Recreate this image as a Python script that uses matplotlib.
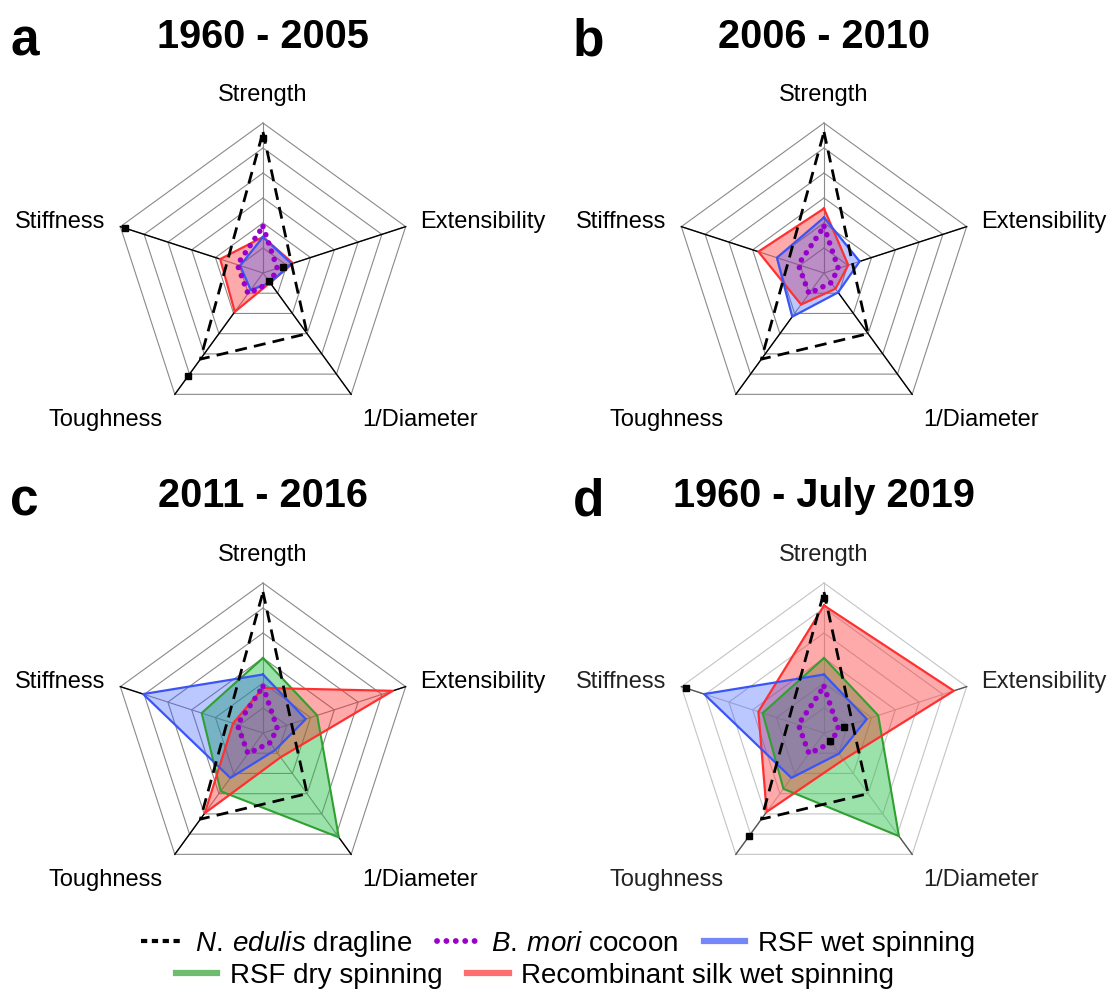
import numpy as np
import matplotlib.pyplot as plt
from matplotlib.lines import Line2D

plt.rcParams['font.family'] = ['Liberation Sans', 'DejaVu Sans']
plt.rcParams['mathtext.fontset'] = 'custom'
plt.rcParams['mathtext.it'] = 'Liberation Sans:italic'
plt.rcParams['mathtext.rm'] = 'Liberation Sans'

# axes go clockwise from the top
axis_names = ['Strength', 'Extensibility', '1/Diameter', 'Toughness', 'Stiffness']

# reference fibres, same in every panel
edulis = [0.94, 0.20, 0.50, 0.71, 0.25]
mori = [0.31, 0.10, 0.08, 0.17, 0.18]
edulis_marks = [0.90, 0.14, 0.07, 0.85, 0.97]

titles = ['1960 - 2005', '2006 - 2010', '2011 - 2016', '1960 - July 2019']
letters = ['a', 'b', 'c', 'd']

rsf_wet = [
    [0.24, 0.20, 0.08, 0.14, 0.16],
    [0.37, 0.25, 0.16, 0.36, 0.33],
    [0.39, 0.30, 0.14, 0.37, 0.84],
    [0.39, 0.30, 0.17, 0.37, 0.84],
]
rsf_dry = [
    None,
    None,
    [0.50, 0.38, 0.86, 0.48, 0.43],
    [0.50, 0.38, 0.85, 0.46, 0.43],
]
recomb_wet = [
    [0.24, 0.21, 0.08, 0.32, 0.30],
    [0.43, 0.17, 0.13, 0.26, 0.46],
    [0.30, 0.91, 0.20, 0.66, 0.21],
    [0.85, 0.91, 0.22, 0.65, 0.46],
]
show_marks = [True, False, False, True]

W, H = 1115, 992
R = 150  # pixels per unit radius
centers = [(263, 273), (824, 273), (263, 733), (824, 733)]

fig = plt.figure(figsize=(W / 100, H / 100), dpi=100)

theta = np.deg2rad(90 - 72 * np.arange(5))


def fx(x):
    return x / W


def fy(y):
    return 1 - y / H


def xy(vals):
    v = np.asarray(vals, dtype=float)
    x = v * np.cos(theta)
    y = v * np.sin(theta)
    return np.append(x, x[0]), np.append(y, y[0])


label_pos = [(0, 1.19, 'center'), (1.05, 0.34, 'left'), (1.05, -0.98, 'center'),
             (-1.05, -0.98, 'center'), (-1.05, 0.34, 'right')]

red_e, red_f = '#ff3030', '#ff2020'
blue_e, blue_f = '#3a55f5', '#3355ff'
green_e, green_f = '#30a030', '#22c044'
purple = '#9900cc'

for p in range(4):
    cx, cy = centers[p]
    half = 1.6
    ax = fig.add_axes([fx(cx - half * R), (H - cy - half * R) / H, 2 * half * R / W, 2 * half * R / H])
    ax.set_xlim(-half, half)
    ax.set_ylim(-half, half)
    ax.set_axis_off()

    soft = p == 3
    ring_c = '#c4c4c4' if soft else '#8a8a8a'
    spoke_c = '#555555' if soft else 'black'
    text_c = '#222222' if soft else 'black'

    # pentagon grid
    for k in range(1, 7):
        gx, gy = xy([k / 6] * 5)
        ax.plot(gx, gy, color=ring_c, lw=0.8, zorder=1)
    for i in range(5):
        ax.plot([0, np.cos(theta[i])], [0, np.sin(theta[i])], color=ring_c, lw=0.8, zorder=1)

    filled = [s for s in (rsf_dry[p], recomb_wet[p], rsf_wet[p]) if s is not None]
    for i in range(1, 5):
        r0 = max(s[i] for s in filled)
        ax.plot([r0 * np.cos(theta[i]), np.cos(theta[i])], [r0 * np.sin(theta[i]), np.sin(theta[i])],
                color=spoke_c, lw=1.0, zorder=1.5)

    if rsf_dry[p] is not None:
        x, y = xy(rsf_dry[p])
        ax.fill(x, y, color=green_f, alpha=0.45, lw=0, zorder=2)
        ax.plot(x, y, color=green_e, lw=1.5, zorder=3)
    x, y = xy(recomb_wet[p])
    ax.fill(x, y, color=red_f, alpha=0.38, lw=0, zorder=2)
    ax.plot(x, y, color=red_e, lw=1.6, zorder=3)
    x, y = xy(rsf_wet[p])
    ax.fill(x, y, color=blue_f, alpha=0.33, lw=0, zorder=2)
    ax.plot(x, y, color=blue_e, lw=1.6, zorder=3.2)

    x, y = xy(mori)
    ax.plot(x, y, color=purple, lw=4.0, ls=(0, (0.01, 1.55)), dash_capstyle='round', zorder=4)
    x, y = xy(edulis)
    ax.plot(x, y, color='black', lw=2.0, ls=(0, (4.3, 2.6)), zorder=5)
    if show_marks[p]:
        x, y = xy(edulis_marks)
        ax.plot(x[:-1], y[:-1], 's', color='black', ms=4.5, zorder=6)

    for (lx, ly, ha), name in zip(label_pos, axis_names):
        ax.text(lx, ly, name, ha=ha, va='center', fontsize=17, color=text_c, clip_on=False)

    ty = 48 if p < 2 else 507
    fig.text(fx(cx), fy(ty), titles[p], ha='center', va='baseline', fontsize=28.5, fontweight='bold')
    lx = 10 if p % 2 == 0 else 573
    fig.text(fx(lx), fy(ty + 8), letters[p], ha='left', va='baseline', fontsize=37, fontweight='bold')

# legend in two centred rows
row1 = [
    Line2D([], [], color='black', lw=3.0, ls=(0, (1.5, 1.1))),
    Line2D([], [], color=purple, lw=4.2, ls=(0, (0.01, 1.6)), dash_capstyle='round'),
    Line2D([], [], color=blue_e, lw=4.5, alpha=0.7),
]
labels1 = [r'$\mathit{N.\:edulis}$ dragline', r'$\mathit{B.\:mori}$ cocoon', 'RSF wet spinning']
row2 = [
    Line2D([], [], color=green_e, lw=4.5, alpha=0.7),
    Line2D([], [], color=red_e, lw=4.5, alpha=0.7),
]
labels2 = ['RSF dry spinning', 'Recombinant silk wet spinning']

leg_kw = dict(loc='center', frameon=False, fontsize=20, handlelength=1.5,
              handletextpad=0.45, columnspacing=0.9, borderpad=0, borderaxespad=0)
fig.legend(row1, labels1, ncol=3, bbox_to_anchor=(fx(558), fy(944)), **leg_kw)
fig.legend(row2, labels2, ncol=2, bbox_to_anchor=(fx(535), fy(976)), **leg_kw)

fig.savefig('out.png', dpi=100)
